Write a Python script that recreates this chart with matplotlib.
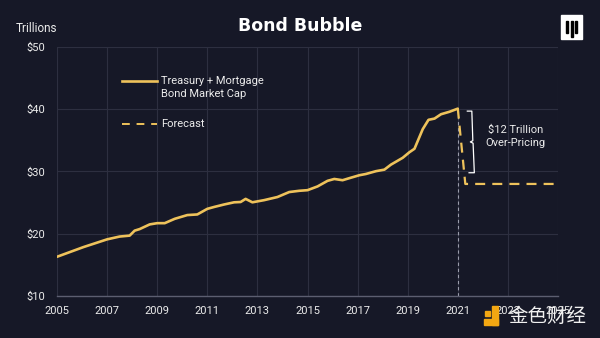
import matplotlib
matplotlib.use("Agg")
import matplotlib.pyplot as plt
from matplotlib.patches import Rectangle

# chart data (trillions USD)
dates = [2005.0, 2006.05, 2007.0, 2007.5, 2007.9, 2008.1, 2008.3, 2008.7, 2009.0, 2009.3,
         2009.7, 2010.2, 2010.6, 2011.0, 2011.27, 2011.67, 2012.07, 2012.33, 2012.53, 2012.8,
         2013.27, 2013.8, 2014.27, 2014.67, 2015.0, 2015.4, 2015.8, 2016.07, 2016.4, 2016.73,
         2017.07, 2017.33, 2017.73, 2018.07, 2018.33, 2018.8, 2019.07, 2019.27, 2019.6, 2019.83,
         2020.07, 2020.33, 2020.67, 2021.0]
market_cap = [16.3, 17.85, 19.1, 19.55, 19.7, 20.5, 20.75, 21.5, 21.7, 21.7,
              22.4, 23.0, 23.1, 24.0, 24.3, 24.7, 25.05, 25.1, 25.6, 25.05,
              25.4, 25.9, 26.7, 26.9, 27.0, 27.6, 28.5, 28.8, 28.6, 29.0,
              29.4, 29.6, 30.05, 30.3, 31.1, 32.2, 33.1, 33.65, 36.8, 38.3,
              38.5, 39.2, 39.6, 40.1]
forecast_dates = [2021.0, 2021.3, 2025.0]
forecast_vals = [40.1, 28.0, 28.0]

year_ticks = list(range(2005, 2026, 2))
y_ticks = [10, 20, 30, 40, 50]
y_labels = ["$10", "$20", "$30", "$40", "$50"]

BG = "#161827"
GOLD = "#EEC25B"
GRID = "#2d2f40"
TXT = "#ececec"
plt.rcParams["font.family"] = ["Roboto", "DejaVu Sans"]

fig = plt.figure(figsize=(6, 3.38), dpi=100, facecolor=BG)
ax = fig.add_axes([57 / 600, 42 / 338, 501 / 600, 249 / 338])
ax.set_facecolor(BG)

ax.plot(dates, market_cap, color=GOLD, lw=1.9, solid_capstyle="round", zorder=3)
fc, = ax.plot(forecast_dates, forecast_vals, color=GOLD, lw=1.6, zorder=3)
fc.set_dashes((4.5, 3.2))
ax.vlines(dates[-1], 10, market_cap[-1], colors="#9a9cab", lw=0.8,
          linestyles=(0, (3, 2.5)), zorder=2)

# bracket for the over-pricing gap
top = market_cap[-1] - 0.4
bot = forecast_vals[-1] + 1.8
mid = (top + bot) / 2
bx = [2021.38, 2021.56, 2021.6, 2021.5, 2021.61, 2021.66, 2021.45]
by = [top, top, mid + 0.2, mid, mid - 0.2, bot, bot]
ax.plot(bx, by, color="white", lw=0.9, zorder=3)
ax.text(2023.3, mid + 0.9, "$12 Trillion\nOver-Pricing", color=TXT, fontsize=8,
        ha="center", va="center", linespacing=1.35)

ax.set_xlim(2005, 2025)
ax.set_ylim(10, 50)
ax.set_xticks(year_ticks)
ax.set_xticklabels([str(y) for y in year_ticks])
ax.set_yticks(y_ticks)
ax.set_yticklabels(y_labels)
ax.tick_params(length=0, colors=TXT, labelsize=8)
ax.tick_params(axis="y", pad=8.5)
ax.tick_params(axis="x", pad=7)
ax.grid(True, color=GRID, lw=0.8)
for s in ["top", "left", "right"]:
    ax.spines[s].set_visible(False)
ax.spines["bottom"].set_color("#5c5e70")
ax.spines["bottom"].set_linewidth(1)

# legend drawn by hand
ax.plot([0.13, 0.2], [0.865, 0.865], transform=ax.transAxes, color=GOLD, lw=1.9)
ax.text(0.207, 0.865, "Treasury + Mortgage", transform=ax.transAxes, color=TXT,
        fontsize=8, va="center")
ax.text(0.207, 0.81, "Bond Market Cap", transform=ax.transAxes, color=TXT,
        fontsize=8, va="center")
lg, = ax.plot([0.13, 0.2], [0.69, 0.69], transform=ax.transAxes, color=GOLD, lw=1.4)
lg.set_dashes((4, 3.5))
ax.text(0.207, 0.69, "Forecast", transform=ax.transAxes, color=TXT,
        fontsize=8, va="center")

fig.text(0.5, 1 - 26 / 338, "Bond Bubble", color="white", fontsize=12.5,
         fontweight="bold", ha="center", va="center", family="DejaVu Sans")
fig.text(57 / 600, 1 - 29 / 338, "Trillions", color=TXT, fontsize=8.5,
         ha="right", va="center")

# logo top right
fig.patches.append(Rectangle((561 / 600, 1 - 39 / 338), 21 / 600, 24 / 338,
                             transform=fig.transFigure, color="white"))
for bx0, bh in [(566, 12), (570.5, 16), (575, 12)]:
    fig.patches.append(Rectangle((bx0 / 600, 1 - (21 + bh) / 338), 2 / 600, bh / 338,
                                 transform=fig.transFigure, color="black"))

# watermark
for (x0, y0, w, h) in [(484, 319, 14, 6), (492, 306, 6, 19), (485, 311, 5, 5)]:
    fig.patches.append(Rectangle((x0 / 600, 1 - (y0 + h) / 338), w / 600, h / 338,
                                 transform=fig.transFigure, color="#F3A712"))
fig.text(547 / 600, 1 - 316 / 338, "金色财经", color="#f0f0f0", fontsize=14,
         ha="center", va="center", family=["Noto Sans CJK SC", "DejaVu Sans"])

fig.savefig("out.png", dpi=100, facecolor=BG)
